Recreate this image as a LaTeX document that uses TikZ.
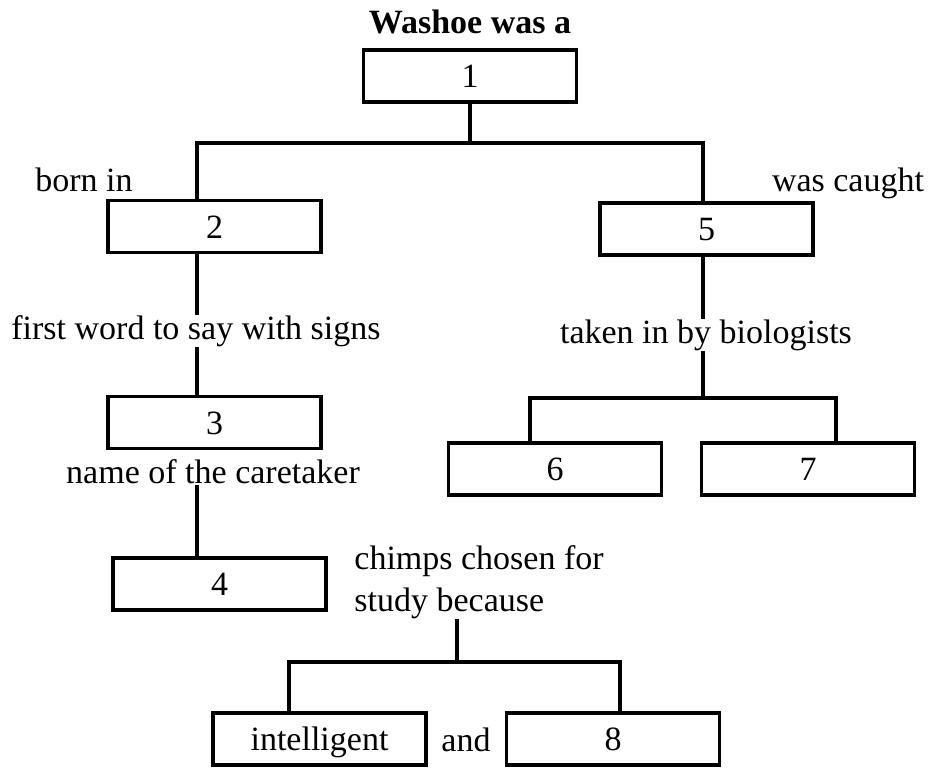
\documentclass[tikz,border=0pt]{standalone}
\usepackage{fontspec}
\setmainfont{Liberation Serif}

\begin{document}
\begin{tikzpicture}[x=0.5pt,y=-0.5pt,line cap=rect,line join=miter,
    every node/.style={font=\fontsize{17}{21}\selectfont},
    numbox/.style={draw,line width=1.6pt,minimum width=106.5pt,
        minimum height=26pt,inner sep=0pt,text height=11.5pt,text depth=0pt},
    hint/.style={inner sep=1pt},
    link/.style={line width=1.6pt}]
        \useasboundingbox (0,0) rectangle (930,767);

        % Title and first box
        \node[font=\fontsize{17}{21}\selectfont\bfseries] (title) at (470,22)
            {Washoe was a};
        \node[numbox] (b1) at (470,76) {1};

        %----------------------------------------------------------
        % First split: born in / was caught
        \coordinate (t1) at (470,143);
        \coordinate (t2) at (197,143);
        \coordinate (t5) at (703,143);
        \node[numbox] (b2) at (214.5,226.5) {2};
        \node[numbox] (b5) at (706.5,229) {5};
        \node[hint] (born) at (84,180) {born in};
        \node[hint] (caught) at (848,183) {was caught};

        \draw[link] (b1.south) -- (t1);
        \draw[link] (t2 |- b2.north) -- (t2) -- (t5) -- (t5 |- b5.north);

        %----------------------------------------------------------
        % Left branch
        \node[hint] (first) at (196,331) {first word to say with signs};
        \node[numbox] (b3) at (214.5,422.5) {3};
        \node[hint] (care) at (213,472) {name of the caretaker};
        \node[numbox] (b4) at (219.5,584) {4};

        \draw[link] (t2 |- b2.south) -- (t2 |- first.north);
        \draw[link] (t2 |- first.south) -- (t2 |- b3.north);
        \draw[link] (t2 |- care.south) -- (t2 |- b4.north);

        %----------------------------------------------------------
        % Right branch
        \node[hint] (taken) at (706,335) {taken in by biologists};
        \coordinate (t67) at (703,398);
        \coordinate (t6) at (530,398);
        \coordinate (t7) at (836,398);
        \node[numbox] (b6) at (555,469) {6};
        \node[numbox] (b7) at (808,469) {7};

        \draw[link] (t5 |- b5.south) -- (t5 |- taken.north);
        \draw[link] (t5 |- taken.south) -- (t67);
        \draw[link] (t6 |- b6.north) -- (t6) -- (t7) -- (t7 |- b7.north);

        %----------------------------------------------------------
        % Why chimps
        \node[hint,align=left,anchor=north west] (chimps) at (352,543)
            {chimps chosen for\\study because};
        \coordinate (tc) at (457,662);
        \coordinate (ti) at (289,662);
        \coordinate (t8) at (620,662);
        \node[numbox] (bi) at (319.5,739) {intelligent};
        \node[hint] (and) at (466,740) {and};
        \node[numbox] (b8) at (613,739) {8};

        \draw[link] (tc |- chimps.south) -- (tc);
        \draw[link] (ti |- bi.north) -- (ti) -- (t8) -- (t8 |- b8.north);
    \end{tikzpicture}
\end{document}
